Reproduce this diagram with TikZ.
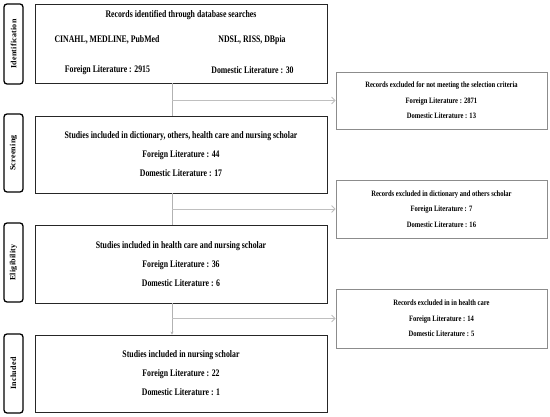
\documentclass[tikz,border=0pt]{standalone}
\usepackage{fontspec}
\setmainfont{Liberation Serif}
\newfontfamily\narrowfont[FakeStretch=0.78]{Liberation Serif}
\newfontfamily\smallnarrowfont[FakeStretch=0.8]{Liberation Serif}
\newfontfamily\stagefont[LetterSpace=3]{Liberation Serif}
\usetikzlibrary{arrows.meta}

\begin{document}
\begin{tikzpicture}[x=1pt,y=-1pt]
                        \tikzstyle{mainbox}=[draw=black!85, line width=0.9pt, minimum width=292pt, inner sep=0pt, align=center, font=\narrowfont\bfseries\fontsize{10}{19}\selectfont]
                        \tikzstyle{maintxt}=[inner sep=0pt, font=\narrowfont\bfseries\fontsize{10}{12}\selectfont]
                        \tikzstyle{sidebox}=[draw=black, line width=1.3pt, rounded corners=3pt, minimum width=19pt, inner sep=0pt, font=\stagefont\bfseries\fontsize{8}{9}\selectfont]
                        \tikzstyle{exclbox}=[draw=black!45, line width=0.8pt, minimum width=211pt, inner sep=0pt, align=center, font=\smallnarrowfont\bfseries\fontsize{8.2}{15.5}\selectfont]
                        \tikzstyle{trunk}=[draw=black!30, line width=0.8pt]
                        \tikzstyle{exarrow}=[draw=black!25, line width=0.8pt, -{Straight Barb[length=3.5pt,width=7pt]}]
                        \useasboundingbox (0,0) rectangle (550,417);
                        \coordinate (trunk) at (172,0);
                        % stage labels
                        \node[sidebox, minimum height=80pt] (sid) at (13.5,44) {\rotatebox{90}{Identification}};
                        \node[sidebox, minimum height=78pt] (sscr) at (13.5,153) {\rotatebox{90}{Screening}};
                        \node[sidebox, minimum height=79pt] (selig) at (13.5,262.5) {\rotatebox{90}{Eligibility}};
                        \node[sidebox, minimum height=79pt] (sincl) at (13.5,373.5) {\rotatebox{90}{Included}};
                        % main boxes
                        \node[mainbox, minimum height=79pt] (ident) at (181,43.5) {};
                        \node[maintxt] (idtitle) at (181,15) {Records identified through database searches};
                        \node[maintxt] (idfdb) at (107,40) {CINAHL, MEDLINE, PubMed};
                        \node[maintxt] (idddb) at (252,40) {NDSL, RISS, DBpia};
                        \node[maintxt] (idfor) at (107.5,70) {Foreign Literature : 2915};
                        \node[maintxt] (iddom) at (252.5,70) {Domestic Literature : 30};
                        \node[mainbox, minimum height=77pt] (screen) at (181,154.5)
                            {Studies included in dictionary, others, health care and nursing scholar\\
                             Foreign Literature : 44\\
                             Domestic Literature : 17};
                        \node[mainbox, minimum height=78pt] (elig) at (181,264)
                            {Studies included in health care and nursing scholar\\
                             Foreign Literature : 36\\
                             Domestic Literature : 6};
                        \node[mainbox, minimum height=77pt] (incl) at (181,373.5)
                            {Studies included in nursing scholar\\
                             Foreign Literature : 22\\
                             Domestic Literature : 1};
                        % excluded records
                        \node[exclbox, minimum height=57pt] (exone) at (441.5,100.5)
                            {Records excluded for not meeting the selection criteria\\
                             Foreign Literature : 2871\\
                             Domestic Literature : 13};
                        \node[exclbox, minimum height=58pt] (extwo) at (441.5,209)
                            {Records excluded in dictionary and others scholar\\
                             Foreign Literature : 7\\
                             Domestic Literature : 16};
                        \node[exclbox, minimum height=59pt] (exthree) at (441.5,318.5)
                            {Records excluded in in health care\\
                             Foreign Literature : 14\\
                             Domestic Literature : 5};
                        % connectors
                        \draw[trunk] (ident.south -| trunk) -- (screen.north -| trunk);
                        \draw[trunk] (screen.south -| trunk) -- (elig.north -| trunk);
                        \draw[trunk, -{Stealth[length=3pt,width=3pt]}] (elig.south -| trunk) -- (incl.north -| trunk);
                        \draw[exarrow] (exone.west -| trunk) -- (exone.west);
                        \draw[exarrow] (extwo.west -| trunk) -- (extwo.west);
                        \draw[exarrow] (exthree.west -| trunk) -- (exthree.west);
                    \end{tikzpicture}
\end{document}
